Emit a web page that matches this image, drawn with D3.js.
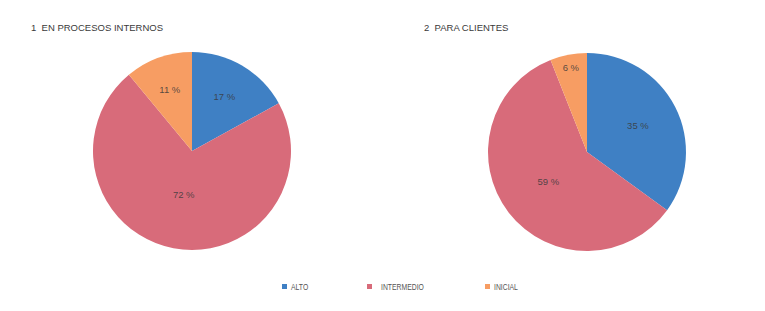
<!DOCTYPE html>
<html>
<head>
<meta charset="utf-8">
<script src="https://cdn.jsdelivr.net/npm/d3@7"></script>
<style>
  body { margin: 0; background: #fff; }
</style>
</head>
<body>
<div id="chart"></div>
<script>
const width = 765, height = 311;

// DATA
const categories = ["ALTO", "INTERMEDIO", "INICIAL"];
const titles = ["1  EN PROCESOS INTERNOS", "2  PARA CLIENTES"];
const internos = [17, 72, 11];
const clientes = [35, 59, 6];

const colors = d3.scaleOrdinal()
  .domain(categories)
  .range(["#3f80c4", "#d86b7a", "#f79d63"]);

const svg = d3.select("#chart")
  .append("svg")
  .attr("width", width)
  .attr("height", height);

const pie = d3.pie().sort(null).value(d => d.v);
const r = 99;
const arc = d3.arc().innerRadius(0).outerRadius(r);

// label distance depends on slice size (rough match of the original placement)
function labelR(p) {
  return p < 0.08 ? 0.87 * r : (0.7 - 0.35 * p) * r;
}

const panels = [
  { title: titles[0], values: internos, cx: 192, cy: 151, tx: 31 },
  { title: titles[1], values: clientes, cx: 587, cy: 152, tx: 424 }
];

panels.forEach(p => {
  svg.append("text")
    .attr("x", p.tx)
    .attr("y", 31)
    .attr("font-family", "Liberation Sans, Arial, sans-serif")
    .attr("font-size", 9.5)
    .attr("fill", "#3a3a3a")
    .style("white-space", "pre")
    .text(p.title);

  const g = svg.append("g").attr("transform", `translate(${p.cx},${p.cy})`);
  const data = categories.map((c, i) => ({ c: c, v: p.values[i] }));
  const total = d3.sum(p.values);
  const arcs = pie(data);

  g.selectAll("path")
    .data(arcs)
    .join("path")
    .attr("d", arc)
    .attr("fill", d => colors(d.data.c));

  g.selectAll("text")
    .data(arcs)
    .join("text")
    .attr("x", d => {
      const a = (d.startAngle + d.endAngle) / 2;
      return Math.sin(a) * labelR(d.data.v / total);
    })
    .attr("y", d => {
      const a = (d.startAngle + d.endAngle) / 2;
      return -Math.cos(a) * labelR(d.data.v / total);
    })
    .attr("dy", "0.35em")
    .attr("text-anchor", "middle")
    .attr("font-family", "Liberation Sans, Arial, sans-serif")
    .attr("font-size", 9.5)
    .attr("fill", "#3a3a3a")
    .attr("fill-opacity", 0.85)
    .text(d => d.data.v + " %");
});

// LEGEND
const legendX = d3.scaleOrdinal()
  .domain(categories)
  .range([282, 367, 485]);

const legend = svg.append("g");
legend.selectAll("rect")
  .data(categories)
  .join("rect")
  .attr("x", d => legendX(d))
  .attr("y", 284)
  .attr("width", 5)
  .attr("height", 5)
  .attr("fill", d => colors(d));

// condensed look of the original legend font
legend.selectAll("text")
  .data(categories)
  .join("text")
  .attr("transform", d => `translate(${legendX(d) + (d === "INTERMEDIO" ? 14 : 9)},290) scale(0.76,1)`)
  .attr("font-family", "Liberation Sans, Arial, sans-serif")
  .attr("font-size", 9)
  .attr("fill", "#555")
  .text(d => d);
</script>
</body>
</html>
